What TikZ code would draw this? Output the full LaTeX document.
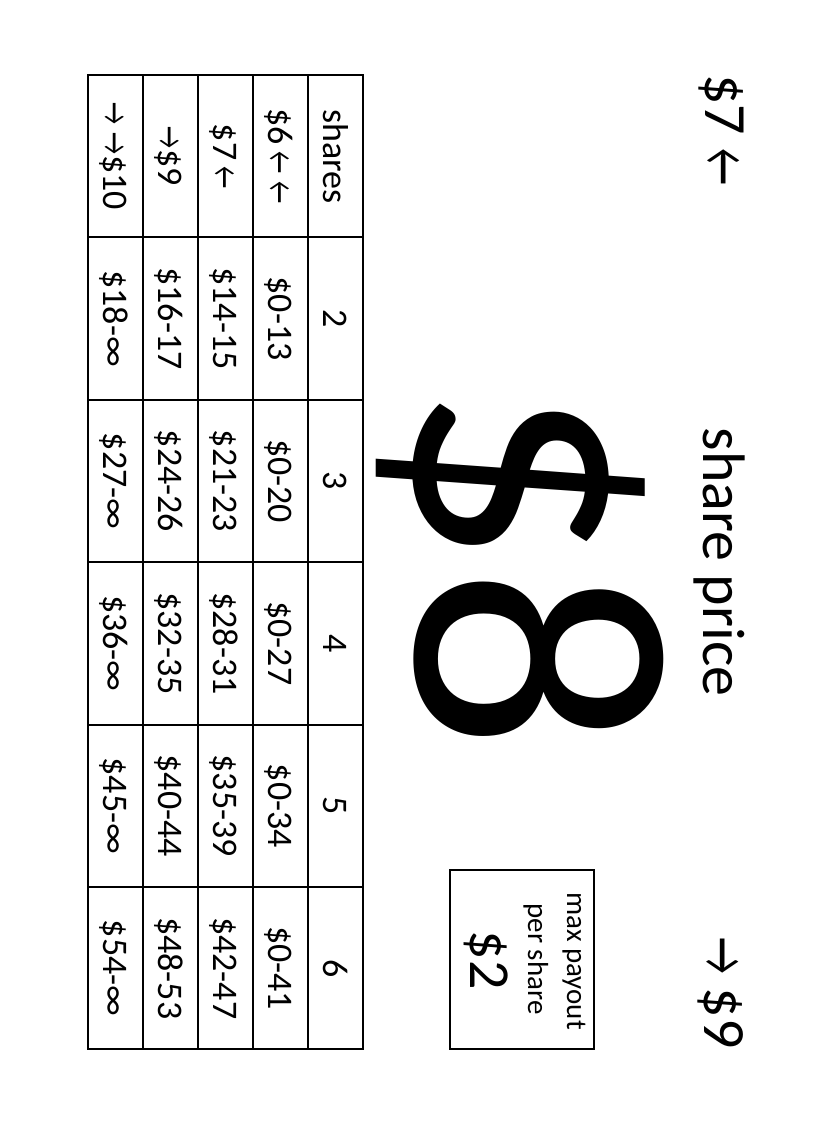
\documentclass[tikz,border=0pt]{standalone}
\usepackage{fontspec}
\setmainfont{Carlito}
\newcommand{\leftarr}{\scalebox{0.68}[1]{←}}
\newcommand{\rightarr}{\scalebox{0.68}[1]{→}}
\tikzset{every picture/.style={line width=0.75pt}}
\tikzset{
  sidetext/.style={rotate=-90, anchor=base, inner sep=0.75pt},
  celltext/.style={sidetext, font=\fontsize{27}{32}\selectfont},
  headtext/.style={sidetext, font=\fontsize{45}{54}\selectfont},
  boxtext/.style={sidetext, font=\fontsize{21.75}{26}\selectfont},
  gridline/.style={line width=1.5pt}
}
\begin{document}
\begin{tikzpicture}[x=0.75pt,y=0.75pt,yscale=-1,xscale=1]
\useasboundingbox (0,0) rectangle (825,1125);

%Shape: Rectangle [outer frame of table]
\draw [gridline]  (87.5,75) -- (363,75) -- (363,1049.4) -- (87.5,1049.4) -- cycle ;
%Straight Lines [row lines]
\draw [gridline]  (142.6,75) -- (142.6,1049.4) ;
\draw [gridline]  (197.7,75) -- (197.7,1049.4) ;
\draw [gridline]  (252.8,75) -- (252.8,1049.4) ;
\draw [gridline]  (307.9,75) -- (307.9,1049.4) ;
%Straight Lines [column lines]
\draw [gridline]  (87.5,237.4) -- (363,237.4) ;
\draw [gridline]  (87.5,399.8) -- (363,399.8) ;
\draw [gridline]  (87.5,562.2) -- (363,562.2) ;
\draw [gridline]  (87.5,724.6) -- (363,724.6) ;
\draw [gridline]  (87.5,887) -- (363,887) ;

%Shape: Rectangle [payout box]
\draw [gridline]  (450,870) -- (594,870) -- (594,1049) -- (450,1049) -- cycle ;

% Text Node
\node [headtext] (lowprice) at (705,130) {\$7 \leftarr};
% Text Node
\node [headtext] (sharelabel) at (703,562) {share price};
% Text Node
\node [headtext] (highprice) at (704,993) {\rightarr{} \$9};
% Text Node
\node [sidetext, font=\fontsize{271.5}{300}\selectfont] (price) at (416,567) {\$8};
% Text Node
\node [boxtext] (payouta) at (567,961) {max payout};
% Text Node
\node [boxtext] (payoutb) at (528,959) {per share};
% Text Node
\node [sidetext, font=\fontsize{43.5}{52}\selectfont] (payout) at (470,960) {\$2};

% Text Node [shares row]
\node [celltext] (sh0) at (323.7,156.2) {shares};
\node [celltext] (sh2) at (323.7,318.6) {2};
\node [celltext] (sh3) at (323.7,481) {3};
\node [celltext] (sh4) at (323.7,643.4) {4};
\node [celltext] (sh5) at (323.7,805.8) {5};
\node [celltext] (sh6) at (323.7,968.2) {6};
% Text Node [$6 row]
\node [celltext] (pa0) at (268.6,156.2) {\$6\,\leftarr{} \leftarr};
\node [celltext] (pa2) at (268.6,318.6) {\$0-13};
\node [celltext] (pa3) at (268.6,481) {\$0-20};
\node [celltext] (pa4) at (268.6,643.4) {\$0-27};
\node [celltext] (pa5) at (268.6,805.8) {\$0-34};
\node [celltext] (pa6) at (268.6,968.2) {\$0-41};
% Text Node [$7 row]
\node [celltext] (pb0) at (213.5,156.2) {\$7\,\leftarr};
\node [celltext] (pb2) at (213.5,318.6) {\$14-15};
\node [celltext] (pb3) at (213.5,481) {\$21-23};
\node [celltext] (pb4) at (213.5,643.4) {\$28-31};
\node [celltext] (pb5) at (213.5,805.8) {\$35-39};
\node [celltext] (pb6) at (213.5,968.2) {\$42-47};
% Text Node [$9 row]
\node [celltext] (pc0) at (158.4,156.2) {\rightarr\$9};
\node [celltext] (pc2) at (158.4,318.6) {\$16-17};
\node [celltext] (pc3) at (158.4,481) {\$24-26};
\node [celltext] (pc4) at (158.4,643.4) {\$32-35};
\node [celltext] (pc5) at (158.4,805.8) {\$40-44};
\node [celltext] (pc6) at (158.4,968.2) {\$48-53};
% Text Node [$10 row]
\node [celltext] (pd0) at (103.3,156.2) {\rightarr{} \rightarr\$10};
\node [celltext] (pd2) at (103.3,318.6) {\$18-∞};
\node [celltext] (pd3) at (103.3,481) {\$27-∞};
\node [celltext] (pd4) at (103.3,643.4) {\$36-∞};
\node [celltext] (pd5) at (103.3,805.8) {\$45-∞};
\node [celltext] (pd6) at (103.3,968.2) {\$54-∞};

\end{tikzpicture}
\end{document}
